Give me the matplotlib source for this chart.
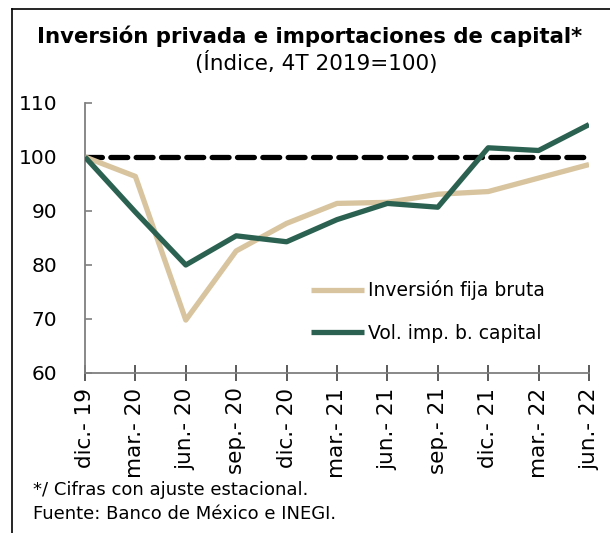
import matplotlib
matplotlib.use('Agg')
import matplotlib.pyplot as plt
from matplotlib.lines import Line2D

# Datos (índice, 4T 2019 = 100)
periodos = ['dic.- 19', 'mar.- 20', 'jun.- 20', 'sep.- 20', 'dic.- 20', 'mar.- 21',
            'jun.- 21', 'sep.- 21', 'dic.- 21', 'mar.- 22', 'jun.- 22']
inversion_fija = [100.0, 96.4, 69.8, 82.6, 87.7, 91.4, 91.6, 93.1, 93.6, 96.1, 98.6]
vol_imp_capital = [100.0, 89.8, 80.0, 85.4, 84.3, 88.4, 91.4, 90.7, 101.7, 101.2, 106.0]
referencia = 100
yticks = [60, 70, 80, 90, 100, 110]

plt.rcParams['font.family'] = ['DejaVu Sans']

fig = plt.figure(figsize=(6.1, 5.33), dpi=100)
ax = fig.add_axes([0.1393, 0.3002, 0.8263, 0.5066])

x = list(range(len(periodos)))
ax.plot(x, inversion_fija, color='#D8C49E', lw=3.8, solid_capstyle='butt',
        label='Inversión fija bruta', zorder=3)
ax.plot(x, vol_imp_capital, color='#2B6150', lw=3.8, solid_capstyle='butt',
        label='Vol. imp. b. capital', zorder=4)
ax.plot([x[0], x[-1]], [referencia, referencia], color='black', lw=3.8,
        dashes=(3.2, 1.6), dash_capstyle='round', zorder=2)

ax.set_xlim(0, len(periodos) - 1)
ax.set_ylim(60, 110)
ax.set_yticks(yticks)
ax.set_xticks(x)
ax.set_xticklabels(periodos, rotation=90, fontsize=15.5)
ax.tick_params(axis='y', direction='in', length=5, width=1.2, color='#7f7f7f',
               labelsize=14.5, pad=20)
ax.tick_params(axis='x', direction='inout', length=11, width=1.2, color='#404040',
               pad=5)

for s in ['top', 'right']:
    ax.spines[s].set_visible(False)
for s in ['left', 'bottom']:
    ax.spines[s].set_color('#7f7f7f')
    ax.spines[s].set_linewidth(1.3)

ax.legend(loc='center left', bbox_to_anchor=(0.43, 0.228), frameon=False,
          fontsize=13.5, handlelength=2.8, handletextpad=0.25, labelspacing=1.25,
          borderpad=0)

fig.text(0.508, 0.932, 'Inversión privada e importaciones de capital*',
         ha='center', va='center', fontsize=15.3, fontweight='bold')
fig.text(0.518, 0.882, '(Índice, 4T 2019=100)', ha='center', va='center',
         fontsize=15.5)
fig.text(33 / 610, 1 - 490 / 533, '*/ Cifras con ajuste estacional.',
         ha='left', va='center', fontsize=13)
fig.text(33 / 610, 1 - 514 / 533, 'Fuente: Banco de México e INEGI.',
         ha='left', va='center', fontsize=13)

# marco superior e izquierdo
ytop = 1 - 9 / 533
xleft = 12 / 610
fig.add_artist(Line2D([xleft, 1], [ytop, ytop], color='black', lw=1.2))
fig.add_artist(Line2D([xleft, xleft], [0, ytop], color='black', lw=1.2))

fig.savefig('out.png', dpi=100)
